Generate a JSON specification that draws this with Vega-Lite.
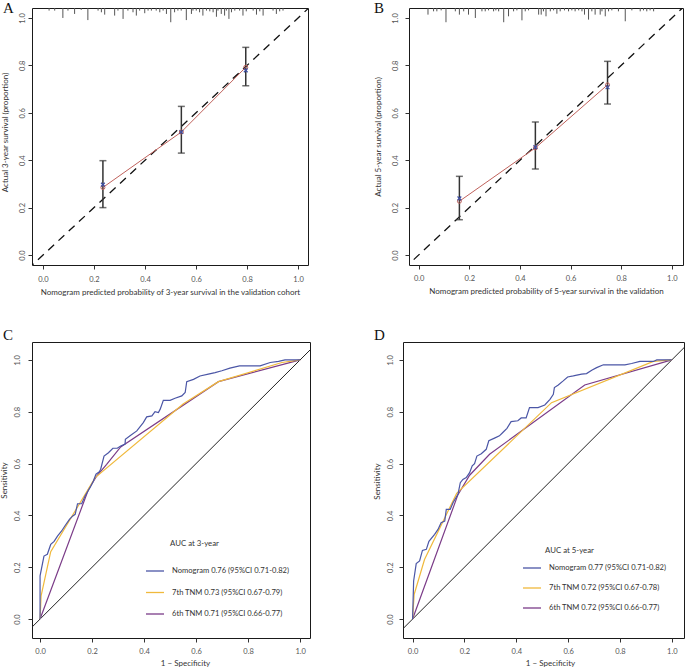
{
"$schema": "https://vega.github.io/schema/vega-lite/v6.json",
"background": "white",
"padding": {"left": 0, "top": 0, "right": 0, "bottom": 0},
"config": {
  "font": "Lato",
  "view": {"stroke": "#1a1a1a", "strokeWidth": 1},
  "axis": {"grid": false, "domain": false, "ticks": true, "tickSize": 4, "tickColor": "#333", "tickWidth": 1, "labelFont": "Lato", "labelFontSize": 7.5, "labelColor": "#555", "titleFont": "Lato", "titleFontSize": 8, "titleFontWeight": "normal", "titleColor": "#333", "labelFlush": false, "labelOverlap": false},
  "axisY": {"labelAngle": 270, "labelAlign": "center", "labelBaseline": "bottom"},
  "title": {"font": "Liberation Serif", "fontSize": 15, "fontWeight": "normal", "anchor": "start", "frame": "group", "offset": 0, "baseline": "top", "color": "#111"}
},
"datasets": {
  "diag": [{"x": -0.1, "y": -0.1}, {"x": 1.1, "y": 1.1}],
  "rugA": [{"x":0.024,"y":1.031},{"x":0.046,"y":1.031},{"x":0.078,"y":1.0},{"x":0.098,"y":1.031},{"x":0.124,"y":1.017},{"x":0.15,"y":1.034},{"x":0.176,"y":0.991},{"x":0.216,"y":1.031},{"x":0.229,"y":1.024},{"x":0.242,"y":1.014},{"x":0.281,"y":1.01},{"x":0.294,"y":1.031},{"x":0.314,"y":0.996},{"x":0.333,"y":1.031},{"x":0.353,"y":1.024},{"x":0.366,"y":1.01},{"x":0.379,"y":1.031},{"x":0.399,"y":1.02},{"x":0.412,"y":1.031},{"x":0.425,"y":1.031},{"x":0.444,"y":1.031},{"x":0.458,"y":1.024},{"x":0.471,"y":1.031},{"x":0.484,"y":1.017},{"x":0.501,"y":0.982},{"x":0.516,"y":1.024},{"x":0.529,"y":1.031},{"x":0.542,"y":1.031},{"x":0.562,"y":0.991},{"x":0.582,"y":1.017},{"x":0.588,"y":1.031},{"x":0.601,"y":1.031},{"x":0.614,"y":1.024},{"x":0.627,"y":1.01},{"x":0.641,"y":1.031},{"x":0.654,"y":1.028},{"x":0.667,"y":1.024},{"x":0.68,"y":1.005},{"x":0.686,"y":1.031},{"x":0.699,"y":1.017},{"x":0.712,"y":1.01},{"x":0.719,"y":1.031},{"x":0.729,"y":0.996},{"x":0.739,"y":1.024},{"x":0.752,"y":1.031},{"x":0.771,"y":1.031},{"x":0.784,"y":1.01},{"x":0.797,"y":1.028},{"x":0.824,"y":1.031},{"x":0.837,"y":1.014},{"x":0.85,"y":1.028},{"x":0.863,"y":1.01},{"x":0.902,"y":1.031},{"x":0.915,"y":1.017},{"x":0.928,"y":1.028},{"x":0.941,"y":1.031}],
  "rugB": [{"x":0.037,"y":1.014},{"x":0.059,"y":1.028},{"x":0.072,"y":1.028},{"x":0.089,"y":1.032},{"x":0.108,"y":0.982},{"x":0.145,"y":1.028},{"x":0.161,"y":1.014},{"x":0.178,"y":1.028},{"x":0.197,"y":1.014},{"x":0.224,"y":1.0},{"x":0.25,"y":1.028},{"x":0.263,"y":1.028},{"x":0.276,"y":1.032},{"x":0.296,"y":1.028},{"x":0.305,"y":1.032},{"x":0.316,"y":1.028},{"x":0.336,"y":0.982},{"x":0.355,"y":1.007},{"x":0.375,"y":1.028},{"x":0.388,"y":1.032},{"x":0.408,"y":0.99},{"x":0.421,"y":1.028},{"x":0.434,"y":1.032},{"x":0.474,"y":1.014},{"x":0.484,"y":1.014},{"x":0.493,"y":1.028},{"x":0.503,"y":1.007},{"x":0.52,"y":1.028},{"x":0.533,"y":1.032},{"x":0.546,"y":1.018},{"x":0.559,"y":1.028},{"x":0.576,"y":1.032},{"x":0.592,"y":1.028},{"x":0.605,"y":1.032},{"x":0.618,"y":1.028},{"x":0.632,"y":1.032},{"x":0.645,"y":1.028},{"x":0.655,"y":1.014},{"x":0.671,"y":0.993},{"x":0.684,"y":1.028},{"x":0.697,"y":1.014},{"x":0.717,"y":1.014},{"x":0.724,"y":1.028},{"x":0.737,"y":1.007},{"x":0.75,"y":1.028},{"x":0.763,"y":1.032},{"x":0.789,"y":1.028},{"x":0.816,"y":0.986},{"x":0.842,"y":1.032},{"x":0.875,"y":1.028},{"x":0.888,"y":1.032},{"x":0.901,"y":1.028},{"x":0.914,"y":1.032},{"x":0.928,"y":1.028}],
  "calA": [{"x":0.235,"y":0.285,"lo":0.2,"hi":0.398,"corr":0.297},{"x":0.5425,"y":0.519,"lo":0.43,"hi":0.627,"corr":0.519},{"x":0.795,"y":0.792,"lo":0.714,"hi":0.876,"corr":0.779}],
  "calB": [{"x":0.161,"y":0.227,"lo":0.149,"hi":0.332,"corr":0.239},{"x":0.461,"y":0.452,"lo":0.363,"hi":0.561,"corr":0.455},{"x":0.746,"y":0.718,"lo":0.637,"hi":0.817,"corr":0.708}],
  "nomC": [{"x":0,"y":0},{"x":0,"y":0.167},{"x":0.015,"y":0.243},{"x":0.028,"y":0.25},{"x":0.041,"y":0.288},{"x":0.054,"y":0.3},{"x":0.067,"y":0.32},{"x":0.083,"y":0.34},{"x":0.096,"y":0.36},{"x":0.113,"y":0.385},{"x":0.126,"y":0.398},{"x":0.135,"y":0.404},{"x":0.144,"y":0.445},{"x":0.16,"y":0.445},{"x":0.173,"y":0.475},{"x":0.192,"y":0.507},{"x":0.205,"y":0.533},{"x":0.215,"y":0.559},{"x":0.228,"y":0.568},{"x":0.233,"y":0.578},{"x":0.246,"y":0.629},{"x":0.263,"y":0.642},{"x":0.28,"y":0.659},{"x":0.297,"y":0.659},{"x":0.31,"y":0.668},{"x":0.327,"y":0.675},{"x":0.328,"y":0.694},{"x":0.346,"y":0.707},{"x":0.372,"y":0.726},{"x":0.397,"y":0.758},{"x":0.41,"y":0.78},{"x":0.43,"y":0.784},{"x":0.442,"y":0.8},{"x":0.455,"y":0.797},{"x":0.462,"y":0.81},{"x":0.474,"y":0.844},{"x":0.5,"y":0.844},{"x":0.519,"y":0.852},{"x":0.545,"y":0.861},{"x":0.558,"y":0.874},{"x":0.564,"y":0.916},{"x":0.59,"y":0.925},{"x":0.615,"y":0.938},{"x":0.647,"y":0.945},{"x":0.673,"y":0.951},{"x":0.699,"y":0.958},{"x":0.73,"y":0.968},{"x":0.767,"y":0.977},{"x":0.846,"y":0.977},{"x":0.885,"y":0.99},{"x":0.917,"y":0.994},{"x":0.942,"y":1.0},{"x":1,"y":1}],
  "t7C": [{"x":0,"y":0},{"x":0.004,"y":0.09},{"x":0.041,"y":0.26},{"x":0.212,"y":0.546},{"x":0.55,"y":0.83},{"x":0.686,"y":0.916},{"x":0.93,"y":0.99},{"x":1,"y":1}],
  "t6C": [{"x":0,"y":0},{"x":0.186,"y":0.5},{"x":0.218,"y":0.552},{"x":0.256,"y":0.597},{"x":0.31,"y":0.664},{"x":0.686,"y":0.916},{"x":1,"y":1}],
  "nomD": [{"x":0,"y":0},{"x":0.004,"y":0.147},{"x":0.014,"y":0.214},{"x":0.027,"y":0.224},{"x":0.038,"y":0.265},{"x":0.053,"y":0.269},{"x":0.063,"y":0.3},{"x":0.085,"y":0.327},{"x":0.098,"y":0.346},{"x":0.11,"y":0.372},{"x":0.124,"y":0.378},{"x":0.13,"y":0.423},{"x":0.145,"y":0.423},{"x":0.156,"y":0.449},{"x":0.175,"y":0.481},{"x":0.184,"y":0.526},{"x":0.194,"y":0.539},{"x":0.207,"y":0.546},{"x":0.22,"y":0.565},{"x":0.23,"y":0.591},{"x":0.239,"y":0.6},{"x":0.248,"y":0.629},{"x":0.265,"y":0.638},{"x":0.284,"y":0.655},{"x":0.294,"y":0.688},{"x":0.316,"y":0.698},{"x":0.335,"y":0.707},{"x":0.348,"y":0.72},{"x":0.364,"y":0.736},{"x":0.38,"y":0.762},{"x":0.406,"y":0.765},{"x":0.419,"y":0.776},{"x":0.438,"y":0.776},{"x":0.451,"y":0.816},{"x":0.484,"y":0.816},{"x":0.51,"y":0.826},{"x":0.53,"y":0.848},{"x":0.543,"y":0.867},{"x":0.547,"y":0.893},{"x":0.562,"y":0.903},{"x":0.581,"y":0.919},{"x":0.598,"y":0.934},{"x":0.62,"y":0.938},{"x":0.652,"y":0.945},{"x":0.671,"y":0.947},{"x":0.691,"y":0.96},{"x":0.71,"y":0.97},{"x":0.736,"y":0.981},{"x":0.819,"y":0.981},{"x":0.845,"y":0.986},{"x":0.877,"y":0.994},{"x":0.929,"y":0.994},{"x":0.942,"y":1.0},{"x":1,"y":1}],
  "t7D": [{"x":0,"y":0},{"x":0.006,"y":0.095},{"x":0.046,"y":0.23},{"x":0.17,"y":0.485},{"x":0.536,"y":0.835},{"x":0.929,"y":0.994},{"x":1,"y":1}],
  "t6D": [{"x":0,"y":0},{"x":0.175,"y":0.48},{"x":0.22,"y":0.555},{"x":0.297,"y":0.636},{"x":0.664,"y":0.903},{"x":1,"y":1}]
},
"vconcat": [
 {"hconcat": [
  {"width": 276, "height": 257,
   "title": {"text": "A", "dx": -29, "dy": 12},
   "layer": [
    {"data": {"name": "rugA"}, "mark": {"type": "rule", "color": "#555", "strokeWidth": 1},
     "encoding": {
      "x": {"field": "x", "type": "quantitative", "scale": {"domain": [-0.043, 1.039], "nice": false, "zero": false}, "axis": {"title": "Nomogram predicted probability of 3-year survival in the validation cohort", "values": [0, 0.2, 0.4, 0.6, 0.8, 1], "format": ".1f", "labelPadding": 6, "titlePadding": 6}},
      "y": {"field": "y", "type": "quantitative", "scale": {"domain": [-0.042, 1.042], "nice": false, "zero": false}, "axis": {"title": "Actual 3-year survival (proportion)", "values": [0, 0.2, 0.4, 0.6, 0.8, 1], "format": ".1f", "labelPadding": 2, "titlePadding": 8.5, "titleY": 124}},
      "y2": {"datum": 1.042}}},
    {"data": {"name": "diag"}, "mark": {"type": "line", "color": "#111", "strokeWidth": 1.3, "strokeDash": [8, 6], "clip": true},
     "encoding": {
      "x": {"field": "x", "type": "quantitative", "scale": {"domain": [-0.043, 1.039], "nice": false, "zero": false}},
      "y": {"field": "y", "type": "quantitative", "scale": {"domain": [-0.042, 1.042], "nice": false, "zero": false}}}},
    {"data": {"name": "calA"}, "mark": {"type": "rule", "color": "#333", "strokeWidth": 1.5},
     "encoding": {
      "x": {"field": "x", "type": "quantitative", "scale": {"domain": [-0.043, 1.039], "nice": false, "zero": false}},
      "y": {"field": "lo", "type": "quantitative", "scale": {"domain": [-0.042, 1.042], "nice": false, "zero": false}},
      "y2": {"field": "hi"}}},
    {"data": {"name": "calA"}, "mark": {"type": "tick", "orient": "horizontal", "size": 7, "thickness": 1.5, "color": "#333"},
     "encoding": {
      "x": {"field": "x", "type": "quantitative", "scale": {"domain": [-0.043, 1.039], "nice": false, "zero": false}},
      "y": {"field": "lo", "type": "quantitative", "scale": {"domain": [-0.042, 1.042], "nice": false, "zero": false}}}},
    {"data": {"name": "calA"}, "mark": {"type": "tick", "orient": "horizontal", "size": 7, "thickness": 1.5, "color": "#333"},
     "encoding": {
      "x": {"field": "x", "type": "quantitative", "scale": {"domain": [-0.043, 1.039], "nice": false, "zero": false}},
      "y": {"field": "hi", "type": "quantitative", "scale": {"domain": [-0.042, 1.042], "nice": false, "zero": false}}}},
    {"data": {"name": "calA"}, "mark": {"type": "line", "color": "#c0625c", "strokeWidth": 1},
     "encoding": {
      "x": {"field": "x", "type": "quantitative", "scale": {"domain": [-0.043, 1.039], "nice": false, "zero": false}},
      "y": {"field": "y", "type": "quantitative", "scale": {"domain": [-0.042, 1.042], "nice": false, "zero": false}}}},
    {"data": {"name": "calA"}, "mark": {"type": "point", "shape": "circle", "size": 16, "color": "#c0625c", "filled": false, "strokeWidth": 1, "opacity": 1},
     "encoding": {
      "x": {"field": "x", "type": "quantitative", "scale": {"domain": [-0.043, 1.039], "nice": false, "zero": false}},
      "y": {"field": "y", "type": "quantitative", "scale": {"domain": [-0.042, 1.042], "nice": false, "zero": false}}}},
    {"data": {"name": "calA"}, "mark": {"type": "point", "shape": "M-1,-1L1,1M-1,1L1,-1", "size": 14, "color": "#3d4ea0", "filled": false, "strokeWidth": 1.2, "opacity": 1},
     "encoding": {
      "x": {"field": "x", "type": "quantitative", "scale": {"domain": [-0.043, 1.039], "nice": false, "zero": false}},
      "y": {"field": "corr", "type": "quantitative", "scale": {"domain": [-0.042, 1.042], "nice": false, "zero": false}}}}
   ]},
  {"width": 274, "height": 257,
   "title": {"text": "B", "dx": -35, "dy": 12},
   "layer": [
    {"data": {"name": "rugB"}, "mark": {"type": "rule", "color": "#555", "strokeWidth": 1},
     "encoding": {
      "x": {"field": "x", "type": "quantitative", "scale": {"domain": [-0.038, 1.044], "nice": false, "zero": false}, "axis": {"title": "Nomogram predicted probability of 5-year survival in the validation", "values": [0, 0.2, 0.4, 0.6, 0.8, 1], "format": ".1f", "labelPadding": 5, "titlePadding": 6}},
      "y": {"field": "y", "type": "quantitative", "scale": {"domain": [-0.042, 1.042], "nice": false, "zero": false}, "axis": {"title": "Actual 5-year survival (proportion)", "values": [0, 0.2, 0.4, 0.6, 0.8, 1], "format": ".1f", "labelPadding": 6, "titlePadding": 8.5}},
      "y2": {"datum": 1.042}}},
    {"data": {"name": "diag"}, "mark": {"type": "line", "color": "#111", "strokeWidth": 1.3, "strokeDash": [8, 6], "clip": true},
     "encoding": {
      "x": {"field": "x", "type": "quantitative", "scale": {"domain": [-0.038, 1.044], "nice": false, "zero": false}},
      "y": {"field": "y", "type": "quantitative", "scale": {"domain": [-0.042, 1.042], "nice": false, "zero": false}}}},
    {"data": {"name": "calB"}, "mark": {"type": "rule", "color": "#333", "strokeWidth": 1.5},
     "encoding": {
      "x": {"field": "x", "type": "quantitative", "scale": {"domain": [-0.038, 1.044], "nice": false, "zero": false}},
      "y": {"field": "lo", "type": "quantitative", "scale": {"domain": [-0.042, 1.042], "nice": false, "zero": false}},
      "y2": {"field": "hi"}}},
    {"data": {"name": "calB"}, "mark": {"type": "tick", "orient": "horizontal", "size": 7, "thickness": 1.5, "color": "#333"},
     "encoding": {
      "x": {"field": "x", "type": "quantitative", "scale": {"domain": [-0.038, 1.044], "nice": false, "zero": false}},
      "y": {"field": "lo", "type": "quantitative", "scale": {"domain": [-0.042, 1.042], "nice": false, "zero": false}}}},
    {"data": {"name": "calB"}, "mark": {"type": "tick", "orient": "horizontal", "size": 7, "thickness": 1.5, "color": "#333"},
     "encoding": {
      "x": {"field": "x", "type": "quantitative", "scale": {"domain": [-0.038, 1.044], "nice": false, "zero": false}},
      "y": {"field": "hi", "type": "quantitative", "scale": {"domain": [-0.042, 1.042], "nice": false, "zero": false}}}},
    {"data": {"name": "calB"}, "mark": {"type": "line", "color": "#c0625c", "strokeWidth": 1},
     "encoding": {
      "x": {"field": "x", "type": "quantitative", "scale": {"domain": [-0.038, 1.044], "nice": false, "zero": false}},
      "y": {"field": "y", "type": "quantitative", "scale": {"domain": [-0.042, 1.042], "nice": false, "zero": false}}}},
    {"data": {"name": "calB"}, "mark": {"type": "point", "shape": "circle", "size": 16, "color": "#c0625c", "filled": false, "strokeWidth": 1, "opacity": 1},
     "encoding": {
      "x": {"field": "x", "type": "quantitative", "scale": {"domain": [-0.038, 1.044], "nice": false, "zero": false}},
      "y": {"field": "y", "type": "quantitative", "scale": {"domain": [-0.042, 1.042], "nice": false, "zero": false}}}},
    {"data": {"name": "calB"}, "mark": {"type": "point", "shape": "M-1,-1L1,1M-1,1L1,-1", "size": 14, "color": "#3d4ea0", "filled": false, "strokeWidth": 1.2, "opacity": 1},
     "encoding": {
      "x": {"field": "x", "type": "quantitative", "scale": {"domain": [-0.038, 1.044], "nice": false, "zero": false}},
      "y": {"field": "corr", "type": "quantitative", "scale": {"domain": [-0.042, 1.042], "nice": false, "zero": false}}}}
   ]}
 ], "spacing": 101, "bounds": "flush"},
 {"hconcat": [
  {"width": 278, "height": 296,
   "title": {"text": "C", "dx": -29, "dy": 4.5},
   "layer": [
    {"data": {"name": "diag"}, "mark": {"type": "line", "color": "#222", "strokeWidth": 1, "clip": true},
     "encoding": {
      "x": {"field": "x", "type": "quantitative", "scale": {"domain": [-0.031, 1.038], "nice": false, "zero": false}, "axis": {"title": "1 − Specificity", "values": [0, 0.2, 0.4, 0.6, 0.8, 1], "format": ".1f", "labelPadding": 5.5, "titlePadding": 4, "titleX": 153}},
      "y": {"field": "y", "type": "quantitative", "scale": {"domain": [-0.073, 1.069], "nice": false, "zero": false}, "axis": {"title": "Sensitivity", "values": [0, 0.2, 0.4, 0.6, 0.8, 1], "format": ".1f", "labelPadding": 7, "titlePadding": 4.5, "titleY": 138}}}},
    {"data": {"name": "t6C"}, "mark": {"type": "line", "strokeWidth": 1.2},
     "encoding": {
      "x": {"field": "x", "type": "quantitative", "scale": {"domain": [-0.031, 1.038], "nice": false, "zero": false}},
      "y": {"field": "y", "type": "quantitative", "scale": {"domain": [-0.073, 1.069], "nice": false, "zero": false}},
      "color": {"datum": "6th TNM 0.71 (95%CI 0.66-0.77)", "type": "nominal", "scale": {"domain": ["Nomogram 0.76 (95%CI 0.71-0.82)", "7th TNM 0.73 (95%CI 0.67-0.79)", "6th TNM 0.71 (95%CI 0.66-0.77)"], "range": ["#4b56a6", "#f0b93c", "#7b3c88"]}, "legend": {"title": null, "orient": "none", "legendX": 113, "legendY": 219, "symbolType": "stroke", "symbolSize": 324, "symbolStrokeWidth": 1.3, "labelFont": "Lato", "labelFontSize": 7.6, "labelColor": "#333", "labelOffset": 7, "rowPadding": 7.5, "padding": 0, "labelLimit": 300}}}},
    {"data": {"name": "t7C"}, "mark": {"type": "line", "strokeWidth": 1.2},
     "encoding": {
      "x": {"field": "x", "type": "quantitative", "scale": {"domain": [-0.031, 1.038], "nice": false, "zero": false}},
      "y": {"field": "y", "type": "quantitative", "scale": {"domain": [-0.073, 1.069], "nice": false, "zero": false}},
      "color": {"datum": "7th TNM 0.73 (95%CI 0.67-0.79)", "type": "nominal", "scale": {"domain": ["Nomogram 0.76 (95%CI 0.71-0.82)", "7th TNM 0.73 (95%CI 0.67-0.79)", "6th TNM 0.71 (95%CI 0.66-0.77)"], "range": ["#4b56a6", "#f0b93c", "#7b3c88"]}, "legend": {"title": null, "orient": "none", "legendX": 113, "legendY": 219, "symbolType": "stroke", "symbolSize": 324, "symbolStrokeWidth": 1.3, "labelFont": "Lato", "labelFontSize": 7.6, "labelColor": "#333", "labelOffset": 7, "rowPadding": 7.5, "padding": 0, "labelLimit": 300}}}},
    {"data": {"name": "nomC"}, "mark": {"type": "line", "strokeWidth": 1.2},
     "encoding": {
      "x": {"field": "x", "type": "quantitative", "scale": {"domain": [-0.031, 1.038], "nice": false, "zero": false}},
      "y": {"field": "y", "type": "quantitative", "scale": {"domain": [-0.073, 1.069], "nice": false, "zero": false}},
      "color": {"datum": "Nomogram 0.76 (95%CI 0.71-0.82)", "type": "nominal", "scale": {"domain": ["Nomogram 0.76 (95%CI 0.71-0.82)", "7th TNM 0.73 (95%CI 0.67-0.79)", "6th TNM 0.71 (95%CI 0.66-0.77)"], "range": ["#4b56a6", "#f0b93c", "#7b3c88"]}, "legend": {"title": null, "orient": "none", "legendX": 113, "legendY": 219, "symbolType": "stroke", "symbolSize": 324, "symbolStrokeWidth": 1.3, "labelFont": "Lato", "labelFontSize": 7.6, "labelColor": "#333", "labelOffset": 7, "rowPadding": 7.5, "padding": 0, "labelLimit": 300}}}},
    {"data": {"values": [{"t": "AUC at 3-year"}]}, "mark": {"type": "text", "align": "left", "baseline": "middle", "fontSize": 7.8, "color": "#333", "font": "Lato"},
     "encoding": {
      "text": {"field": "t"},
      "x": {"datum": 0.5, "type": "quantitative", "scale": {"domain": [-0.031, 1.038], "nice": false, "zero": false}},
      "y": {"datum": 0.288, "type": "quantitative", "scale": {"domain": [-0.073, 1.069], "nice": false, "zero": false}}}}
   ]},
  {"width": 281, "height": 296,
   "title": {"text": "D", "dx": -29, "dy": 4.5},
   "layer": [
    {"data": {"name": "diag"}, "mark": {"type": "line", "color": "#222", "strokeWidth": 1, "clip": true},
     "encoding": {
      "x": {"field": "x", "type": "quantitative", "scale": {"domain": [-0.037, 1.047], "nice": false, "zero": false}, "axis": {"title": "1 − Specificity", "values": [0, 0.2, 0.4, 0.6, 0.8, 1], "format": ".1f", "labelPadding": 5.5, "titlePadding": 4, "titleX": 147}},
      "y": {"field": "y", "type": "quantitative", "scale": {"domain": [-0.073, 1.069], "nice": false, "zero": false}, "axis": {"title": "Sensitivity", "values": [0, 0.2, 0.4, 0.6, 0.8, 1], "format": ".1f", "labelPadding": 5, "titlePadding": 4.5, "titleY": 139}}}},
    {"data": {"name": "t6D"}, "mark": {"type": "line", "strokeWidth": 1.2},
     "encoding": {
      "x": {"field": "x", "type": "quantitative", "scale": {"domain": [-0.037, 1.047], "nice": false, "zero": false}},
      "y": {"field": "y", "type": "quantitative", "scale": {"domain": [-0.073, 1.069], "nice": false, "zero": false}},
      "color": {"datum": "6th TNM 0.72 (95%CI 0.66-0.77)", "type": "nominal", "scale": {"domain": ["Nomogram 0.77 (95%CI 0.71-0.82)", "7th TNM 0.72 (95%CI 0.67-0.78)", "6th TNM 0.72 (95%CI 0.66-0.77)"], "range": ["#4b56a6", "#f0b93c", "#7b3c88"]}, "legend": {"title": null, "orient": "none", "legendX": 119, "legendY": 216, "symbolType": "stroke", "symbolSize": 324, "symbolStrokeWidth": 1.3, "labelFont": "Lato", "labelFontSize": 7.6, "labelColor": "#333", "labelOffset": 7, "rowPadding": 6, "padding": 0, "labelLimit": 300}}}},
    {"data": {"name": "t7D"}, "mark": {"type": "line", "strokeWidth": 1.2},
     "encoding": {
      "x": {"field": "x", "type": "quantitative", "scale": {"domain": [-0.037, 1.047], "nice": false, "zero": false}},
      "y": {"field": "y", "type": "quantitative", "scale": {"domain": [-0.073, 1.069], "nice": false, "zero": false}},
      "color": {"datum": "7th TNM 0.72 (95%CI 0.67-0.78)", "type": "nominal", "scale": {"domain": ["Nomogram 0.77 (95%CI 0.71-0.82)", "7th TNM 0.72 (95%CI 0.67-0.78)", "6th TNM 0.72 (95%CI 0.66-0.77)"], "range": ["#4b56a6", "#f0b93c", "#7b3c88"]}, "legend": {"title": null, "orient": "none", "legendX": 119, "legendY": 216, "symbolType": "stroke", "symbolSize": 324, "symbolStrokeWidth": 1.3, "labelFont": "Lato", "labelFontSize": 7.6, "labelColor": "#333", "labelOffset": 7, "rowPadding": 6, "padding": 0, "labelLimit": 300}}}},
    {"data": {"name": "nomD"}, "mark": {"type": "line", "strokeWidth": 1.2},
     "encoding": {
      "x": {"field": "x", "type": "quantitative", "scale": {"domain": [-0.037, 1.047], "nice": false, "zero": false}},
      "y": {"field": "y", "type": "quantitative", "scale": {"domain": [-0.073, 1.069], "nice": false, "zero": false}},
      "color": {"datum": "Nomogram 0.77 (95%CI 0.71-0.82)", "type": "nominal", "scale": {"domain": ["Nomogram 0.77 (95%CI 0.71-0.82)", "7th TNM 0.72 (95%CI 0.67-0.78)", "6th TNM 0.72 (95%CI 0.66-0.77)"], "range": ["#4b56a6", "#f0b93c", "#7b3c88"]}, "legend": {"title": null, "orient": "none", "legendX": 119, "legendY": 216, "symbolType": "stroke", "symbolSize": 324, "symbolStrokeWidth": 1.3, "labelFont": "Lato", "labelFontSize": 7.6, "labelColor": "#333", "labelOffset": 7, "rowPadding": 6, "padding": 0, "labelLimit": 300}}}},
    {"data": {"values": [{"t": "AUC at 5-year"}]}, "mark": {"type": "text", "align": "left", "baseline": "middle", "fontSize": 7.8, "color": "#333", "font": "Lato"},
     "encoding": {
      "text": {"field": "t"},
      "x": {"datum": 0.511, "type": "quantitative", "scale": {"domain": [-0.037, 1.047], "nice": false, "zero": false}},
      "y": {"datum": 0.263, "type": "quantitative", "scale": {"domain": [-0.073, 1.069], "nice": false, "zero": false}}}}
   ]}
 ], "spacing": 93, "bounds": "flush", "resolve": {"scale": {"color": "independent"}, "legend": {"color": "independent"}}}
],
"spacing": 30,
"bounds": "full",
"resolve": {"scale": {"color": "independent"}, "legend": {"color": "independent"}}
}
